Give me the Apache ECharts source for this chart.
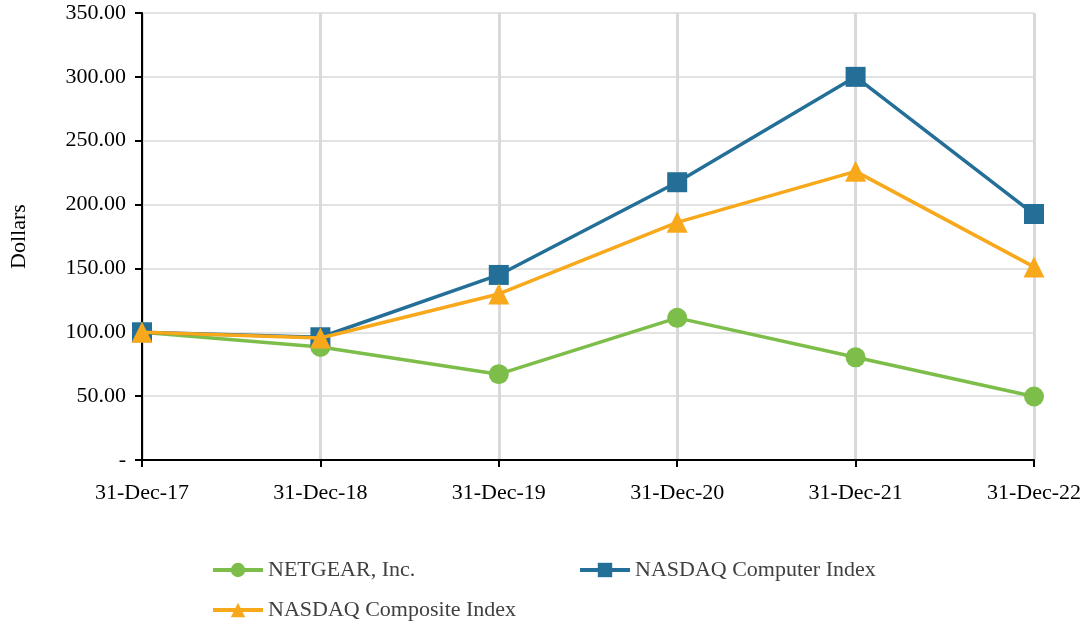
<!DOCTYPE html>
<html><head><meta charset="utf-8">
<script src="https://cdn.jsdelivr.net/npm/echarts@6/dist/echarts.min.js"></script>
<style>html,body{margin:0;padding:0;background:#fff}#c{width:1086px;height:624px}</style>
</head><body><div id="c"></div>
<script>
const categories = ['31-Dec-17','31-Dec-18','31-Dec-19','31-Dec-20','31-Dec-21','31-Dec-22'];
const netgear = [100.00, 88.50, 67.20, 111.30, 80.40, 49.70];
const computerIdx = [100.00, 96.10, 144.90, 217.50, 300.00, 192.60];
const compositeIdx = [100.00, 95.50, 130.00, 186.10, 226.00, 151.20];
const yTicks = {min:0, max:350, interval:50};

const font = '"Liberation Serif", "Times New Roman", serif';
const chart = echarts.init(document.getElementById('c'), null, {renderer:'canvas'});
const legendText = {fontFamily:font, fontSize:22, color:'#404040'};
function leg(name, left, top){
  return {data:[name], left:left, top:top, itemWidth:50, itemHeight:18, itemGap:0,
    lineStyle:{width:4}, textStyle:legendText};
}
chart.setOption({
  animation:false,
  backgroundColor:'#fff',
  grid:{left:142, right:52, top:13, bottom:164, containLabel:false},
  legend:[
    leg('NETGEAR, Inc.', 206, 554),
    leg('NASDAQ Computer Index', 573, 554),
    leg('NASDAQ Composite Index', 206, 594)
  ],
  xAxis:{
    type:'category', data:categories, boundaryGap:false,
    axisLine:{lineStyle:{color:'#000', width:2}},
    axisTick:{show:true, length:7, lineStyle:{color:'#000', width:2}, alignWithLabel:true},
    axisLabel:{fontFamily:font, fontSize:22, color:'#000', margin:22},
    splitLine:{show:true, lineStyle:{color:'#d9d9d9', width:3}}
  },
  yAxis:{
    type:'value', min:yTicks.min, max:yTicks.max, interval:yTicks.interval,
    name:'Dollars', nameLocation:'middle', nameGap:112, nameRotate:90,
    nameTextStyle:{fontFamily:font, fontSize:22, color:'#000'},
    axisLine:{show:true, lineStyle:{color:'#000', width:2}},
    axisTick:{show:true, length:7, lineStyle:{color:'#000', width:2}},
    axisLabel:{fontFamily:font, fontSize:22, color:'#000', margin:16,
      formatter:v => v===0 ? '-' : v.toFixed(2)},
    splitLine:{show:true, lineStyle:{color:'#e3e3e3', width:2}}
  },
  series:[
    {name:'NETGEAR, Inc.', type:'line', data:netgear, symbol:'circle', symbolSize:20,
      lineStyle:{color:'#7DBE4A', width:3.5}, itemStyle:{color:'#7DBE4A'}, z:3},
    {name:'NASDAQ Computer Index', type:'line', data:computerIdx, symbol:'rect', symbolSize:20,
      lineStyle:{color:'#246F97', width:3.5}, itemStyle:{color:'#246F97'}, z:4},
    {name:'NASDAQ Composite Index', type:'line', data:compositeIdx, symbol:'triangle', symbolSize:21,
      lineStyle:{color:'#F8A81B', width:3.5}, itemStyle:{color:'#F8A81B'}, z:5}
  ]
});
</script></body></html>
